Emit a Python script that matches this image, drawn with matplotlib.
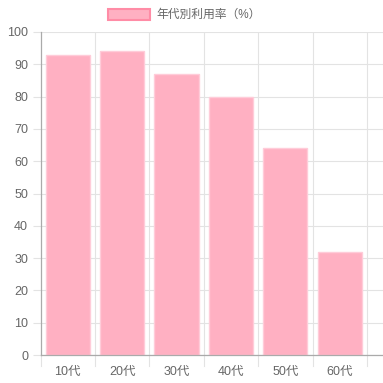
import matplotlib
matplotlib.use("Agg")
import matplotlib.pyplot as plt
from matplotlib.patches import Rectangle

plt.rcParams['font.family'] = ['Liberation Sans', 'Noto Sans CJK JP']

categories = ["10代", "20代", "30代", "40代", "50代", "60代"]
values = [93, 94, 87, 80, 64, 32]
series_label = "年代別利用率（%）"
yticks = list(range(0, 101, 10))

W = H = 383
fig = plt.figure(figsize=(W / 100, H / 100), dpi=100)
left, right, top, bottom = 40.5, 383, 32, 355
ax = fig.add_axes([left / W, (H - bottom) / H, (right - left) / W, (bottom - top) / H])

fill = (1.0, 0.69, 0.76)
edge = (1.0, 0.80, 0.85)
txt = "#666666"
grid = "#e3e3e3"

x = list(range(len(categories)))
ax.bar(x, values, width=0.81, color=fill, edgecolor=edge, linewidth=1.0, zorder=2)

step = 54.4
ax.set_xlim(-0.5, -0.5 + (right - left) / step)
ax.set_ylim(0, 100)
ax.set_yticks(yticks)
ax.set_yticklabels([str(v) for v in yticks])
ax.set_xticks(x)
ax.set_xticklabels(categories)
ax.tick_params(axis='x', length=0, pad=8, labelsize=9, colors=txt)
ax.tick_params(axis='y', length=6, width=0.8, color=grid, pad=3, labelsize=9, labelcolor=txt)

for v in yticks:
    ax.axhline(v, color=grid, lw=0.8, zorder=0)
bounds = [i - 0.5 for i in range(len(categories) + 1)]
for b in bounds[1:]:
    ax.axvline(b, color=grid, lw=0.8, zorder=0)
for b in bounds:
    ax.plot([b, b], [0, -0.035], transform=ax.get_xaxis_transform(), color=grid,
            lw=0.8, clip_on=False)

for s in ['top', 'right']:
    ax.spines[s].set_visible(False)
for s in ['left', 'bottom']:
    ax.spines[s].set_color("#aaaaaa")
    ax.spines[s].set_linewidth(0.9)

# legend
fig.patches.append(Rectangle((108 / W, 1 - 20 / H), 42 / W, 11 / H, transform=fig.transFigure,
                             facecolor=fill, edgecolor=(1.0, 0.55, 0.65), linewidth=1.5))
fig.text(156 / W, 1 - 14.5 / H, series_label, fontsize=8.5, color=txt, va='center', ha='left')

fig.savefig("out.png", dpi=100, facecolor="white")
